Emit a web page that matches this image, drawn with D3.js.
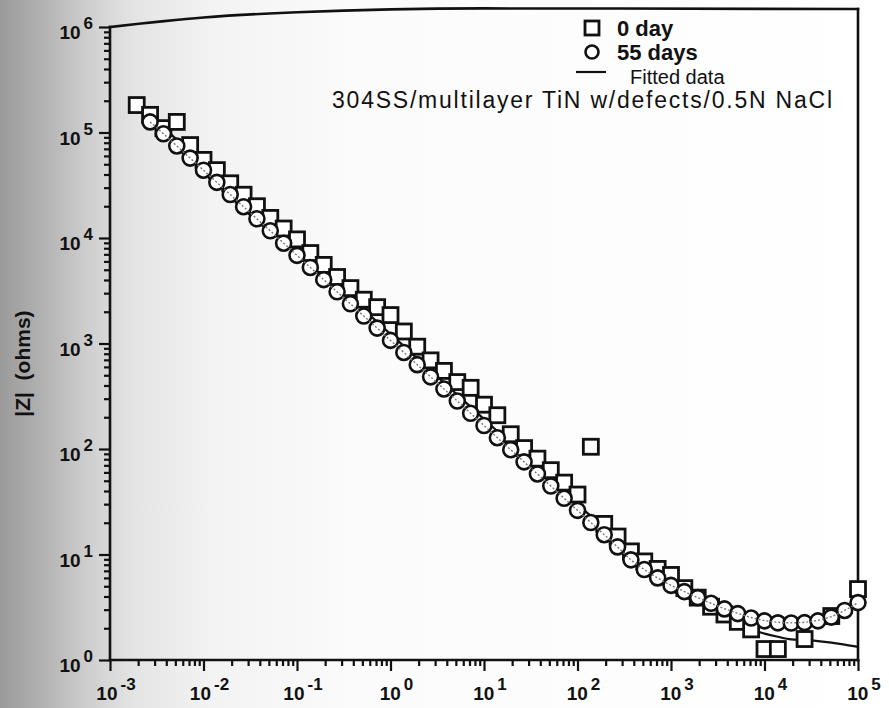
<!DOCTYPE html>
<html>
<head>
<meta charset="utf-8">
<script src="https://cdn.jsdelivr.net/npm/d3@7"></script>
<style>
  html, body { margin: 0; padding: 0; background: #fff; }
  svg { display: block; }
  text { font-family: "Liberation Sans", Arial, Helvetica, sans-serif; fill: #111; }
</style>
</head>
<body>
<svg id="chart" width="889" height="708"></svg>
<script>
// Frequencies (Hz), seven per decade
const freq = [
  0.001931, 0.002683, 0.003728, 0.005179, 0.007197,
  0.01, 0.01389, 0.01931, 0.02683, 0.03728, 0.05179, 0.07197,
  0.1, 0.1389, 0.1931, 0.2683, 0.3728, 0.5179, 0.7197,
  1, 1.389, 1.931, 2.683, 3.728, 5.179, 7.197,
  10, 13.89, 19.31, 26.83, 37.28, 51.79, 71.97,
  100, 138.9, 193.1, 268.3, 372.8, 517.9, 719.7,
  1000, 1389, 1931, 2683, 3728, 5179, 7197,
  10000, 13895, 19307, 26827, 37276, 51795, 71969,
  100000
];

// |Z| (ohms), 0 day
const zDay0 = [
  182000, 147000, 110000, 126000, 76000,
  55000, 44000, 33000, 25700, 20000, 15500, 12300,
  9700, 7200, 5560, 4270, 3350, 2600, 2210,
  1860, 1300, 933, 692, 550, 431, 380,
  263, 209, 138, 102, 81, 63, 48,
  37, 105, 19.5, 14.8, 10.7, 8.6, 7.3,
  6.4, 4.8, 3.9, 3.2, 2.7, 2.3, 1.95,
  1.27, 1.27, null, 1.58, null, 2.61, null,
  4.7
];

// |Z| (ohms), 55 days
const zDay55 = [
  null, 126000, 97200, 74600, 57200,
  43900, 33700, 25800, 19800, 15200, 11700, 8930,
  6850, 5260, 4030, 3090, 2380, 1820, 1400,
  1070, 822, 630, 483, 371, 285, 218,
  167, 128, 98.5, 75.5, 58.0, 44.6, 34.1,
  26.2, 20.1, 15.4, 11.8, 8.9, 7.2, 6.0,
  5.1, 4.45, 3.9, 3.45, 3.05, 2.75, 2.5,
  2.35, 2.25, 2.24, 2.26, 2.35, 2.55, 2.95,
  3.5
];

// Equivalent-circuit fit, 0 day
const fitDay0 = [
  189500, 145200, 111600, 85700, 65600,
  50400, 38600, 29600, 22700, 17460, 13390, 10260,
  7870, 6040, 4625, 3550, 2730, 2094, 1603,
  1230, 944, 723, 555, 426, 327, 251,
  192, 147.5, 113, 86.7, 66.7, 51.2, 39.2,
  30.1, 23.1, 17.7, 13.6, 10.4, 7.85, 5.9,
  4.57, 3.98, 3.47, 3.05, 2.69, 2.32, 1.95,
  1.78, 1.66, 1.57, 1.55, 1.51, 1.46, 1.40,
  1.33
];

// Equivalent-circuit fit, 55 days
const fitDay55 = [
  null, 126000, 97200, 74600, 57200,
  43900, 33700, 25800, 19800, 15200, 11700, 8930,
  6850, 5260, 4030, 3090, 2380, 1820, 1400,
  1070, 822, 630, 483, 371, 285, 218,
  167, 128, 98.5, 75.5, 58.0, 44.6, 34.1,
  26.2, 20.1, 15.4, 11.8, 8.9, 7.2, 6.0,
  5.1, 4.45, 3.9, 3.45, 3.07, 2.77, 2.53,
  2.37, 2.28, 2.25, 2.28, 2.38, 2.58, 2.95,
  3.5
];

// Decade tick exponents
const xExponents = ["-3", "-2", "-1", "0", "1", "2", "3", "4", "5"];
const yExponents = ["0", "1", "2", "3", "4", "5", "6"];

const legendLabels = ["0 day", "55 days", "Fitted data"];
const subtitle = "304SS/multilayer TiN w/defects/0.5N NaCl";
const yTitle = "|Z|  (ohms)";

// Upper edge of the frame, in data units (the sheet was not scanned flat)
const frameTopF = [0.001, 0.01, 0.1, 10, 100000];
const frameTopZ = [1e6, 1.23e6, 1.38e6, 1.5e6, 1.48e6];

const W = 889, H = 708;
const svg = d3.select("#chart");

// scanned-paper shading, darker toward the left edge
const defs = svg.append("defs");
const grad = defs.append("linearGradient").attr("id", "paper")
  .attr("x1", 0).attr("x2", 1).attr("y1", 0).attr("y2", 0);
[[0, "#9a9a9a"], [0.05, "#b3b3b3"], [0.1, "#cfcfcf"], [0.15, "#e4e4e4"],
 [0.24, "#f3f3f3"], [0.4, "#fbfbfb"], [1, "#ffffff"]].forEach(([o, c]) =>
  grad.append("stop").attr("offset", o).attr("stop-color", c));
svg.append("rect").attr("width", W).attr("height", H).attr("fill", "url(#paper)");

const x = d3.scaleLog().domain([1e-3, 1e5]).range([110, 858]);
const y = d3.scaleLog().domain([1, 1e6]).range([660, 27]);

// minor + major log ticks
function logTicks(lo, hi) {
  const out = [];
  for (let e = lo; e <= hi; e++) {
    for (let m = 1; m <= 9; m++) {
      if (e === hi && m > 1) break;
      out.push(m * Math.pow(10, e));
    }
  }
  return out;
}
const xAll = logTicks(-3, 5), yAll = logTicks(0, 6);
const isMajor = v => Math.abs(Math.log10(v) - Math.round(Math.log10(v))) < 1e-9;

function styleAxis(g) {
  g.select(".domain").remove();
  g.selectAll(".tick line").attr("stroke", "#111").attr("stroke-width", 2.2);
  g.selectAll(".tick text").remove();
}

const gx = svg.append("g");
gx.append("g").attr("transform", `translate(0,${y(1)})`)
  .call(d3.axisBottom(x).tickValues(xAll.filter(v => !isMajor(v))).tickSize(6)).call(styleAxis);
gx.append("g").attr("transform", `translate(0,${y(1)})`)
  .call(d3.axisBottom(x).tickValues(xAll.filter(isMajor)).tickSize(11)).call(styleAxis);

const gy = svg.append("g");
gy.append("g").attr("transform", `translate(${x(1e-3)},0)`)
  .call(d3.axisLeft(y).tickValues(yAll.filter(v => !isMajor(v))).tickSize(6)).call(styleAxis);
gy.append("g").attr("transform", `translate(${x(1e-3)},0)`)
  .call(d3.axisLeft(y).tickValues(yAll.filter(isMajor)).tickSize(11)).call(styleAxis);

// frame
const topEdge = frameTopF.map((f, i) => [x(f), y(frameTopZ[i])]);
const frame = svg.append("g").attr("fill", "none").attr("stroke", "#111")
  .attr("stroke-width", 2.6).attr("stroke-linecap", "square");
frame.append("path").attr("d", d3.line().curve(d3.curveMonotoneX)(topEdge));
frame.append("line").attr("x1", x(1e-3)).attr("x2", x(1e-3)).attr("y1", y(1e6)).attr("y2", y(1));
frame.append("line").attr("x1", x(1e-3)).attr("x2", x(1e5)).attr("y1", y(1)).attr("y2", y(1));
frame.append("line").attr("x1", x(1e5)).attr("x2", x(1e5))
  .attr("y1", y(frameTopZ[frameTopZ.length - 1])).attr("y2", y(1));

// tick labels, 10 with a raised exponent
const labelFont = 19, expFont = 17;
xExponents.forEach(e => {
  const t = svg.append("text").attr("x", x(Math.pow(10, +e)) + 6).attr("y", y(1) + 40)
    .attr("text-anchor", "middle").attr("font-weight", "bold").attr("font-size", labelFont);
  t.append("tspan").text("10");
  t.append("tspan").attr("dx", 3).attr("dy", -10).attr("font-size", expFont).text(e);
});
yExponents.forEach(e => {
  const t = svg.append("text").attr("x", x(1e-3) - 17).attr("y", y(Math.pow(10, +e)) + 12)
    .attr("text-anchor", "end").attr("font-weight", "bold").attr("font-size", labelFont);
  t.append("tspan").text("10");
  t.append("tspan").attr("dx", 3).attr("dy", -10).attr("font-size", expFont).text(e);
});

svg.append("text")
  .attr("transform", `translate(30,${(y(1) + y(1e6)) / 2 + 20}) rotate(-90)`)
  .attr("text-anchor", "middle").attr("font-weight", "bold").attr("font-size", 21)
  .style("white-space", "pre").text(yTitle);

// data
const pts = vals => freq.map((f, i) => [f, vals[i]]).filter(d => d[1] != null);
const line = d3.line().curve(d3.curveMonotoneX).x(d => x(d[0])).y(d => y(d[1]));

svg.append("path").datum(pts(fitDay0)).attr("d", line)
  .attr("fill", "none").attr("stroke", "#111").attr("stroke-width", 2.2);

const sq = 15;
svg.append("g").selectAll("rect").data(pts(zDay0)).join("rect")
  .attr("x", d => x(d[0]) - sq / 2).attr("y", d => y(d[1]) - sq / 2)
  .attr("width", sq).attr("height", sq)
  .attr("fill", "#fff").attr("stroke", "#111").attr("stroke-width", 2.8);

const cr = 7.5;
svg.append("g").selectAll("circle").data(pts(zDay55)).join("circle")
  .attr("cx", d => x(d[0])).attr("cy", d => y(d[1])).attr("r", cr)
  .attr("fill", "#fff").attr("stroke", "#111").attr("stroke-width", 2.6);

svg.append("path").datum(pts(fitDay55)).attr("d", line)
  .attr("fill", "none").attr("stroke", "#777").attr("stroke-width", 1.4)
  .attr("stroke-dasharray", "2,2");

// legend
const lg = svg.append("g");
const lx = 592, ly = [28, 52, 76];
lg.append("rect").attr("x", lx - 7).attr("y", ly[0] - 7).attr("width", 14).attr("height", 14)
  .attr("fill", "#fff").attr("stroke", "#111").attr("stroke-width", 2.8);
lg.append("circle").attr("cx", lx).attr("cy", ly[1]).attr("r", 6.5)
  .attr("fill", "#fff").attr("stroke", "#111").attr("stroke-width", 2.6);
lg.append("line").attr("x1", lx - 16).attr("x2", lx + 14).attr("y1", ly[2] - 4).attr("y2", ly[2] - 4)
  .attr("stroke", "#111").attr("stroke-width", 2.2);
legendLabels.forEach((s, i) => {
  lg.append("text").attr("x", i < 2 ? 617 : 630).attr("y", ly[i] + 8)
    .attr("font-size", i < 2 ? 22 : 20).attr("font-weight", i < 2 ? "bold" : "normal").text(s);
});
lg.append("text").attr("x", 332).attr("y", 108).attr("font-size", 23)
  .attr("textLength", 500).attr("lengthAdjust", "spacing")
  .text(subtitle);
</script>
</body>
</html>
